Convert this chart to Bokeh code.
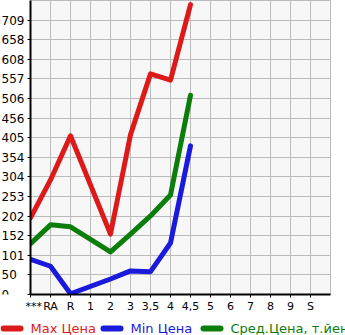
from bokeh.plotting import figure
from bokeh.models import Range1d, FixedTicker
from bokeh.layouts import row, column
from bokeh.core.properties import value
from bokeh.embed import file_html
from bokeh.resources import INLINE

categories = ["***", "RA", "R", "1", "2", "3", "3,5", "4", "4,5", "5", "6", "7", "8", "9", "S"]
max_vals = [198, 296, 410, None, 156, 413, 570, 554, 749, None, None, None, None, None, None]
min_vals = [91, 73, 2, None, 40, 61, 59, 133, 384, None, None, None, None, None, None]
avg_vals = [131, 180, 175, None, 110, 156, 203, 257, 515, None, None, None, None, None, None]
y_tick_labels = ["0", "50", "101", "152", "202", "253", "304", "354", "405", "456",
                 "506", "557", "608", "658", "709"]
y_step = 50.64
series_names = ["Max Цена", "Min Цена", "Сред.Цена, т.йен"]
series_colors = ["#dd1a1a", "#1a1add", "#0a7d0a"]

FONT = "DejaVu Sans"

yr = Range1d(0, y_step * 15)
yt = [i * y_step for i in range(len(y_tick_labels))]
xt = list(range(len(categories)))

# main plot
p = figure(width=320, height=315, output_backend="svg", toolbar_location=None,
           x_range=Range1d(0, len(categories)), y_range=yr,
           min_border_left=5, min_border_right=15, min_border_top=0, min_border_bottom=15)
p.background_fill_color = "#f7f7f7"
p.border_fill_color = "white"
p.outline_line_color = "#bbbbbb"
p.xaxis.ticker = FixedTicker(ticks=xt)
p.yaxis.ticker = FixedTicker(ticks=yt)
p.xaxis.major_label_overrides = {i: c for i, c in enumerate(categories)}
p.xaxis.major_label_text_font = FONT
p.xaxis.major_label_text_font_size = "11px"
p.xaxis.major_label_text_color = "black"
p.xaxis.major_label_standoff = 2
p.yaxis.major_label_text_font_size = "1px"
p.yaxis.major_label_text_color = None
p.yaxis.major_label_standoff = 0
for ax in (p.xaxis, p.yaxis):
    ax.axis_line_color = "black"
    ax.axis_line_width = 2
    ax.major_tick_in = 0
    ax.major_tick_out = 3
    ax.major_tick_line_color = "black"
    ax.minor_tick_line_color = None
p.xgrid.grid_line_color = "#bbbbbb"
p.ygrid.grid_line_color = "#bbbbbb"

for vals, col in zip([max_vals, min_vals, avg_vals], series_colors):
    xs = [i for i, v in enumerate(vals) if v is not None]
    ys = [v for v in vals if v is not None]
    p.line(xs, ys, line_color=col, line_width=5, line_cap="round", line_join="round")

# y tick labels (left aligned, as in the reference)
pl = figure(width=25, height=315, output_backend="svg", toolbar_location=None,
            x_range=Range1d(0, 25), y_range=yr, x_axis_location=None, y_axis_location=None,
            min_border_left=0, min_border_right=0, min_border_top=0, min_border_bottom=15)
pl.grid.visible = False
pl.outline_line_color = None
pl.background_fill_color = "white"
pl.text(x=[1] * len(yt), y=yt, text=y_tick_labels, text_align="left",
        text_baseline="alphabetic", text_font=value(FONT), text_font_size="12px",
        text_color="black")

# legend strip
pg = figure(width=345, height=20, output_backend="svg", toolbar_location=None,
            x_range=Range1d(0, 345), y_range=Range1d(0, 20), x_axis_location=None,
            y_axis_location=None, min_border_left=0, min_border_right=0,
            min_border_top=0, min_border_bottom=0)
pg.grid.visible = False
pg.outline_line_color = None
pg.background_fill_color = "white"
lx = [0, 100, 200]
pg.segment(x0=[x + 3 for x in lx], y0=[7] * 3, x1=[x + 20 for x in lx], y1=[7] * 3,
           line_color=series_colors, line_width=6, line_cap="round")
pg.text(x=[x + 30 for x in lx], y=[7] * 3, text=series_names, text_color=series_colors,
        text_align="left", text_baseline="middle", text_font=value(FONT),
        text_font_size="13px")

layout = column(row(pl, p, spacing=0), pg, spacing=0)
open("out.html", "w").write(file_html(layout, INLINE))
